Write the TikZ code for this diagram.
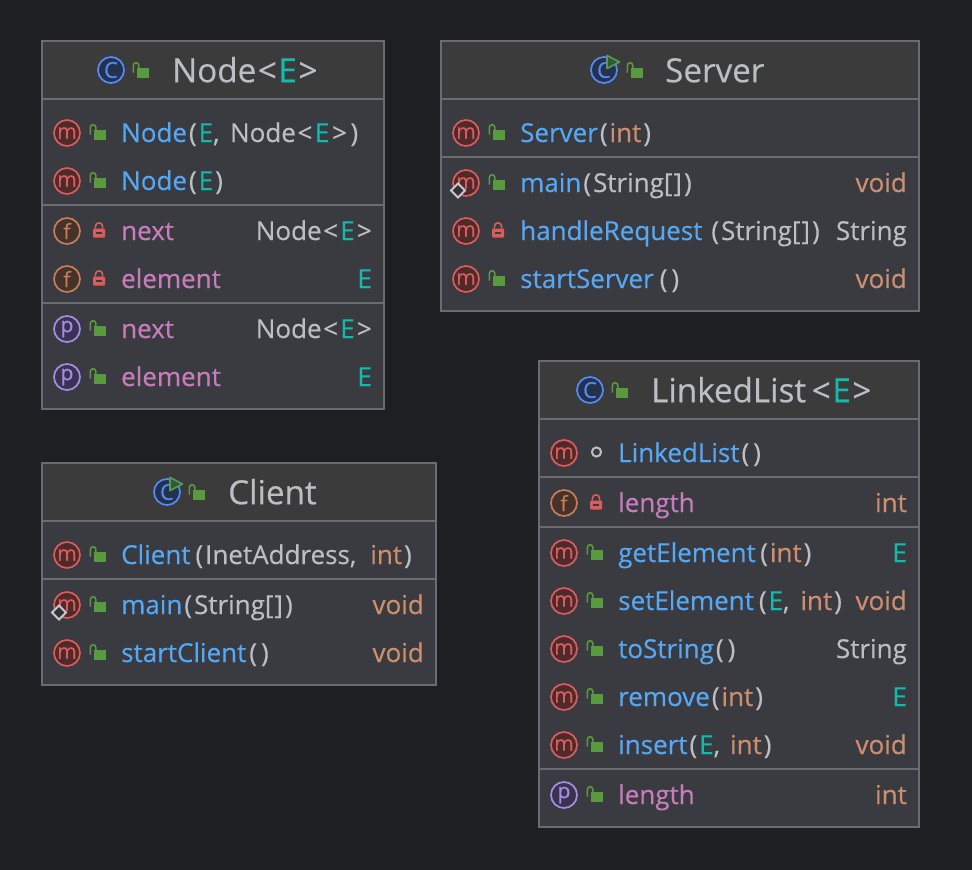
\documentclass[tikz,border=0pt]{standalone}
\usepackage{fontspec}
\setmainfont{Open Sans}[RawFeature={embolden=0.35}]
\definecolor{bg}{HTML}{1E1F22}
\definecolor{body}{HTML}{393B40}
\definecolor{head}{HTML}{3B3B3B}
\definecolor{edge}{HTML}{6A6C70}
\definecolor{tx}{HTML}{BCBEC4}
\definecolor{bl}{HTML}{56A8F5}
\definecolor{or}{HTML}{CF8E6D}
\definecolor{te}{HTML}{16BAAC}
\definecolor{pu}{HTML}{C77DBB}
\definecolor{lockg}{HTML}{5A9A3F}
\definecolor{lockr}{HTML}{DB5C5C}
\definecolor{mc}{HTML}{DB5C5C}\definecolor{mf}{HTML}{4E2A2B}
\definecolor{fc}{HTML}{C77D55}\definecolor{ff}{HTML}{45322B}
\definecolor{pc}{HTML}{A88BE8}\definecolor{pf}{HTML}{3A3350}
\definecolor{cc}{HTML}{548AF7}\definecolor{cf}{HTML}{25324D}
\definecolor{run}{HTML}{57965C}\definecolor{runf}{HTML}{2F5A30}
\newcommand{\Bl}[1]{\textcolor{bl}{#1}}
\newcommand{\Tx}[1]{\textcolor{tx}{#1}}
\newcommand{\Or}[1]{\textcolor{or}{#1}}
\newcommand{\Te}[1]{\textcolor{te}{#1}}
\newcommand{\Pu}[1]{\textcolor{pu}{#1}}
\newcommand{\Pa}[1]{\kern2pt\Tx{#1}\kern2pt}
\newcommand{\Ang}[1]{\kern1.6pt\Tx{#1}\kern1.6pt}
\newcommand{\Gen}{\Tx{Node}\Ang{<}\kern0.6pt\Te{E}\kern0.6pt\Ang{>}\kern-1.6pt}
\newcommand{\Arr}{\Tx{String[}\kern1pt\Tx{]}}
\tikzset{
  x=1pt,y=-1pt,
  boxbody/.style={fill=body,draw=edge,line width=1.4pt},
  boxhead/.style={fill=head},
  sepline/.style={draw=edge,line width=2pt},
  rowtext/.style={inner sep=0pt,anchor=base west,font=\fontsize{26}{28}\selectfont},
  rowtype/.style={inner sep=0pt,anchor=base east,font=\fontsize{26}{28}\selectfont},
  titletext/.style={inner sep=0pt,anchor=base west,font=\fontsize{33.2}{35}\selectfont},
  badge/.style={circle,minimum size=26pt,inner sep=0pt,line width=1.7pt,font=\fontsize{21}{21}\selectfont},
  mbadge/.style={badge,draw=mc,fill=mf,text=mc},
  fbadge/.style={badge,draw=fc,fill=ff,text=fc},
  pbadge/.style={badge,draw=pc,fill=pf,text=pc},
  cbadge/.style={badge,draw=cc,fill=cf,text=cc,font=\fontsize{22}{22}\selectfont},
}
\newcommand{\lockopen}[2]{%
  \fill[lockg] (#1-4.5,#2-3) rectangle (#1+7.5,#2+7);
  \draw[lockg,line width=1.6pt] (#1-7.6,#2+1.5) -- (#1-7.6,#2-5.6) arc[start angle=180,end angle=360,radius=2.7] -- (#1-2.2,#2-3);
}
\newcommand{\lockclosed}[2]{%
  \fill[lockr,rounded corners=1pt] (#1-6,#2-2.5) rectangle (#1+6,#2+6.5);
  \draw[lockr,line width=1.6pt] (#1-3.6,#2-2.5) -- (#1-3.6,#2-4.6) arc[start angle=180,end angle=360,radius=3.6] -- (#1+3.6,#2-2.5);
  \fill[body] (#1-3.2,#2+0.8) rectangle (#1+3.2,#2+3);
}
\newcommand{\runmark}[2]{%
  \draw[run,fill=runf,line width=1.7pt,line join=round] (#1-5,#2-6.5) -- (#1+7.5,#2) -- (#1-5,#2+6.5) -- cycle;
}
\newcommand{\mainmark}[2]{%
  \draw[tx!80!white,fill=body!70!bg,line width=1.8pt] (#1-7,#2) -- (#1,#2-7) -- (#1+7,#2) -- (#1,#2+7) -- cycle;
}
% \rowitem{name}{boxleft}{boxright}{y}{badge style}{letter}{lock open/closed/none}{text}{type}
\newcommand{\rowitem}[9]{%
  \node[#5] (#1i) at (#2+25,#4) {#6};
  \ifnum#7=1 \lockopen{#2+56}{#4}\fi
  \ifnum#7=2 \lockclosed{#2+57}{#4}\fi
  \ifnum#7=3 \draw[tx,line width=2pt] (#2+57.5,#4-1) circle[radius=4.6];\fi
  \node[rowtext] (#1t) at (#2+79,#4+9) {#8};
  \node[rowtype] (#1r) at (#3-12,#4+9) {#9};
}
\begin{document}
\begin{tikzpicture}
\fill[bg] (0,0) rectangle (972,870);
\useasboundingbox (0,0) rectangle (972,870);

% ---------- Node<E>
\draw[boxbody] (42,41) rectangle (384,409);
\fill[boxhead] (43,42) rectangle (383,99);
\draw[sepline] (42,99) -- (384,99);
\draw[sepline] (42,205) -- (384,205);
\draw[sepline] (42,303) -- (384,303);
\node[cbadge] (nodeic) at (111,70) {C};
\lockopen{141}{71}
\node[titletext] (nodetitle) at (172,82.2) {\Tx{Node}\Ang{<}\Te{E}\Ang{>}};
\rowitem{na}{42}{384}{133}{mbadge}{m}{1}{\Bl{Node}\Pa{(}\Te{E}\Tx{,}\kern10.5pt\Tx{Node}\Ang{<}\kern1pt\Te{E}\kern1pt\Ang{>}\Pa{)}}{}
\rowitem{nb}{42}{384}{181}{mbadge}{m}{1}{\Bl{Node}\Pa{(}\Te{E}\Pa{)}}{}
\rowitem{nc}{42}{384}{231}{fbadge}{f}{2}{\Pu{next}}{\Gen}
\rowitem{nd}{42}{384}{279}{fbadge}{f}{2}{\Pu{element}}{\Te{E}}
\rowitem{ne}{42}{384}{329}{pbadge}{p}{1}{\Pu{next}}{\Gen}
\rowitem{nf}{42}{384}{377}{pbadge}{p}{1}{\Pu{element}}{\Te{E}}

% ---------- Server
\draw[boxbody] (441,41) rectangle (919,311);
\fill[boxhead] (442,42) rectangle (918,99);
\draw[sepline] (441,99) -- (919,99);
\draw[sepline] (441,157) -- (919,157);
\node[cbadge] (serveric) at (604,70) {C};
\runmark{612}{62}
\lockopen{635}{71}
\node[titletext] (servertitle) at (665,82.2) {\Tx{Server}};
\rowitem{sa}{441}{919}{133}{mbadge}{m}{1}{\Bl{Server}\Pa{(}\Or{int}\Pa{)}}{}
\rowitem{sb}{441}{919}{183}{mbadge}{m}{1}{\Bl{main}\Pa{(}\Arr\Pa{)}}{\Or{void}}
\mainmark{458}{190.5}
\rowitem{sc}{441}{919}{231}{mbadge}{m}{2}{\Bl{handleRequest}\kern7pt\Pa{(}\Arr\Pa{)}}{\Tx{String}}
\rowitem{sd}{441}{919}{279}{mbadge}{m}{1}{\Bl{startServer}\kern4pt\Pa{(}\Pa{)}}{\Or{void}}

% ---------- Client
\draw[boxbody] (42,463) rectangle (436,685);
\fill[boxhead] (43,464) rectangle (435,521);
\draw[sepline] (42,521) -- (436,521);
\draw[sepline] (42,579) -- (436,579);
\node[cbadge] (clientic) at (167,492) {C};
\runmark{175}{484}
\lockopen{197}{493}
\node[titletext] (clienttitle) at (228,504.2) {\Tx{Client}};
\rowitem{ca}{42}{436}{555}{mbadge}{m}{1}{\Bl{Client}\kern3pt\Pa{(}\Tx{InetAddress,}\kern14pt\Or{int}\Pa{)}}{}
\rowitem{cb}{42}{436}{605}{mbadge}{m}{1}{\Bl{main}\Pa{(}\Arr\Pa{)}}{\Or{void}}
\mainmark{59}{612.5}
\rowitem{cc}{42}{436}{653}{mbadge}{m}{1}{\Bl{startClient}\kern1pt\Pa{(}\Pa{)}}{\Or{void}}

% ---------- LinkedList<E>
\draw[boxbody] (539,361) rectangle (919,827);
\fill[boxhead] (540,362) rectangle (918,419);
\draw[sepline] (539,419) -- (919,419);
\draw[sepline] (539,477) -- (919,477);
\draw[sepline] (539,527) -- (919,527);
\draw[sepline] (539,769) -- (919,769);
\node[cbadge] (listic) at (590,390) {C};
\lockopen{620}{391}
\node[titletext] (listtitle) at (651,402.2) {\Tx{LinkedList}\kern4pt\Ang{<}\Te{E}\Ang{>}};
\rowitem{la}{539}{919}{453}{mbadge}{m}{3}{\Bl{LinkedList}\Pa{(}\Pa{)}}{}
\rowitem{lb}{539}{919}{503}{fbadge}{f}{2}{\Pu{length}}{\Or{int}}
\rowitem{lc}{539}{919}{553}{mbadge}{m}{1}{\Bl{getElement}\kern2.5pt\Pa{(}\Or{int}\Pa{)}}{\Te{E}}
\rowitem{ld}{539}{919}{601}{mbadge}{m}{1}{\Bl{setElement}\kern3pt\Pa{(}\Te{E}\Tx{,}\kern11pt\Or{int}\Pa{)}}{\Or{void}}
\rowitem{le}{539}{919}{649}{mbadge}{m}{1}{\Bl{toString}\Pa{(}\Pa{)}}{\Tx{String}}
\rowitem{lf}{539}{919}{697}{mbadge}{m}{1}{\Bl{remove}\Pa{(}\Or{int}\Pa{)}}{\Te{E}}
\rowitem{lg}{539}{919}{745}{mbadge}{m}{1}{\Bl{insert}\Pa{(}\Te{E}\Tx{,}\kern10pt\Or{int}\Pa{)}}{\Or{void}}
\rowitem{lh}{539}{919}{795}{pbadge}{p}{1}{\Pu{length}}{\Or{int}}
\end{tikzpicture}
\end{document}
